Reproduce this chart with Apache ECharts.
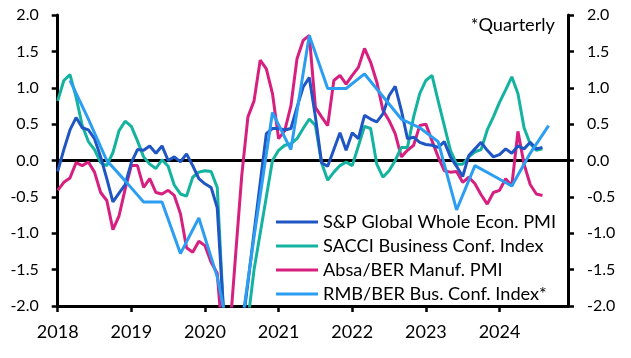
<!DOCTYPE html>
<html>
<head>
<meta charset="utf-8">
<script src="https://cdn.jsdelivr.net/npm/echarts@6/dist/echarts.min.js"></script>
<style>html,body{margin:0;padding:0;background:#fff}#c{width:631px;height:358px}</style>
</head>
<body>
<div id="c"></div>
<script>
// Monthly series: Jan 2018 .. Aug 2024
const startYear = 2018;
const yearTicks = [2018, 2019, 2020, 2021, 2022, 2023, 2024];
const seriesNames = ["S&P Global Whole Econ. PMI", "SACCI Business Conf. Index", "Absa/BER Manuf. PMI", "RMB/BER Bus. Conf. Index*"];

const spGlobal = [
  -0.15, 0.15, 0.42, 0.59, 0.45, 0.42, 0.30, 0.05, -0.25, -0.57, -0.45, -0.33,
  -0.03, 0.15, 0.14, 0.20, 0.10, 0.20, 0.00, 0.05, -0.02, 0.09, -0.07, -0.25,
  -0.32, -0.37, -0.65, -2.05, -3.50, -3.00, -2.35, -1.68, -0.99, -0.31, 0.37, 0.44,
  0.44, 0.42, 0.44, 0.73, 1.01, 1.14, 0.60, -0.03, -0.08, 0.15, 0.38, 0.14,
  0.38, 0.30, 0.62, 0.57, 0.53, 0.64, 0.89, 1.02, 0.69, 0.30, 0.32, 0.25,
  0.22, 0.21, 0.18, 0.26, 0.05, -0.08, -0.22, 0.07, 0.16, 0.25, 0.14, 0.05,
  0.08, 0.16, 0.10, 0.20, 0.16, 0.25, 0.16, 0.18
];
const sacci = [
  0.82, 1.10, 1.18, 0.87, 0.48, 0.26, 0.15, -0.03, -0.07, 0.11, 0.41, 0.54,
  0.47, 0.27, 0.05, -0.05, -0.11, 0.01, -0.08, -0.34, -0.46, -0.49, -0.23, -0.16,
  -0.14, -0.15, -0.37, -2.05, -4.00, -3.50, -3.00, -2.20, -1.50, -1.00, -0.50, 0.00,
  0.14, 0.21, 0.23, 0.30, 0.44, 0.57, 0.48, -0.03, -0.27, -0.16, -0.07, -0.02,
  -0.07, 0.20, 0.47, 0.44, -0.05, -0.23, -0.14, 0.00, 0.18, 0.18, 0.60, 0.92,
  1.10, 1.17, 0.82, 0.48, 0.14, -0.05, -0.05, 0.05, 0.12, 0.15, 0.42, 0.60,
  0.80, 0.97, 1.15, 0.92, 0.45, 0.23, 0.14, 0.16
];
const absaPmi = [
  -0.41, -0.30, -0.24, -0.03, -0.07, -0.02, -0.16, -0.44, -0.55, -0.95, -0.76, -0.39,
  -0.07, -0.07, -0.37, -0.25, -0.44, -0.46, -0.41, -0.48, -0.73, -1.20, -1.26, -1.11,
  -1.17, -1.40, -1.55, -2.60, -2.40, -1.29, -0.20, 0.60, 0.82, 1.38, 1.26, 0.92,
  0.30, 0.41, 0.75, 1.40, 1.65, 1.72, 0.73, 0.60, 0.48, 1.10, 1.17, 1.05,
  1.17, 1.28, 1.54, 1.35, 1.08, 0.69, 0.55, 0.37, 0.05, 0.14, 0.21, 0.48,
  0.50, 0.27, 0.05, -0.14, -0.16, -0.15, -0.30, -0.23, -0.32, -0.47, -0.60, -0.44,
  -0.41, -0.25, -0.35, 0.40, -0.05, -0.33, -0.46, -0.48
];
// Quarterly series: Q1 2018 .. Q3 2024 (plotted at quarter-end month)
const rmbBer = [
  1.10, 0.57, 0.00, -0.28,
  -0.57, -0.57, -1.28, -0.79,
  -1.60, -2.85, -1.05, 0.66,
  0.15, 1.72, 0.99, 0.99,
  1.19, 0.88, 0.57, 0.45,
  0.26, -0.68, -0.07, -0.21,
  -0.35, 0.10, 0.48
];

const colors = ["#1f56c4", "#14b3a0", "#d61f7f", "#2b9ef2"];
const FONT = "Lato";

function monthly(arr) { return arr.map((v, i) => [startYear + i / 12, v]); }
function quarterly(arr) { return arr.map((v, i) => [startYear + (2 + 3 * i) / 12, v]); }

const xMin = 2018, xMax = 2024.93;
const chart = echarts.init(document.getElementById('c'), null, {renderer: 'canvas'});
const yCommon = {
  type: 'value', min: -2, max: 2, interval: 0.5,
  axisLine: {show: true, onZero: false, lineStyle: {color: '#000', width: 3}},
  axisTick: {show: true, length: 6, lineStyle: {color: '#000', width: 2.5}},
  axisLabel: {color: '#000', fontFamily: FONT, fontSize: 16, margin: 19, formatter: v => v.toFixed(1)},
  splitLine: {show: false}
};
const lineSeries = (name, data, color, z) => ({
  name, type: 'line', data, xAxisIndex: 0, yAxisIndex: 0, showSymbol: false, symbol: 'none',
  clip: true, z, lineStyle: {color, width: 3}, itemStyle: {color}
});

chart.setOption({
  animation: false,
  color: colors,
  grid: {left: 57.7, right: 63, top: 15, bottom: 52, containLabel: false},
  legend: {
    orient: 'vertical', left: 271, top: 207, itemGap: 4,
    icon: 'rect', itemWidth: 42, itemHeight: 3,
    textStyle: {color: '#000', fontFamily: FONT, fontSize: 18.2, lineHeight: 20},
    data: seriesNames
  },
  xAxis: [{
    type: 'value', min: xMin, max: xMax, interval: 1, position: 'bottom',
    axisLine: {show: true, onZero: false, lineStyle: {color: '#000', width: 3}},
    axisTick: {show: true, inside: false, length: 6, customValues: yearTicks, lineStyle: {color: '#000', width: 2.5}},
    axisLabel: {color: '#000', fontFamily: FONT, fontSize: 18, margin: 17, customValues: yearTicks, formatter: v => yearTicks.includes(v) ? String(v) : ''},
    splitLine: {show: false}
  }, {
    type: 'value', min: xMin, max: xMax, position: 'top',
    axisLine: {show: true, onZero: true, lineStyle: {color: '#000', width: 3}},
    axisTick: {show: false}, axisLabel: {show: false}, splitLine: {show: false}
  }],
  yAxis: [
    Object.assign({}, yCommon, {position: 'left'}),
    Object.assign({}, yCommon, {position: 'right'})
  ],
  graphic: [{
    type: 'text', style: {
      text: '*Quarterly', x: 555, y: 25, textAlign: 'right', textVerticalAlign: 'middle',
      fill: '#000', font: '18.2px ' + FONT
    }
  }],
  series: [
    lineSeries(seriesNames[0], monthly(spGlobal), colors[0], 5),
    lineSeries(seriesNames[1], monthly(sacci), colors[1], 4),
    lineSeries(seriesNames[2], monthly(absaPmi), colors[2], 3),
    lineSeries(seriesNames[3], quarterly(rmbBer), colors[3], 6)
  ]
});
</script>
</body>
</html>
